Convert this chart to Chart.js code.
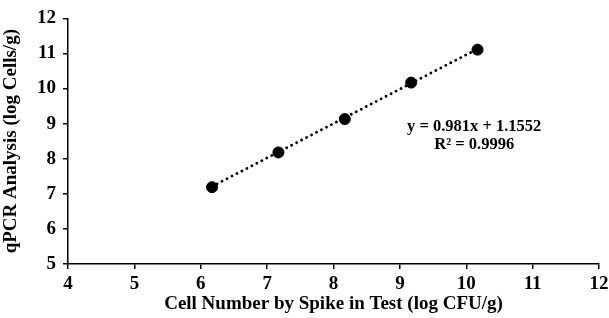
<!DOCTYPE html>
<html>
<head>
<meta charset="utf-8">
<script src="https://cdn.jsdelivr.net/npm/chart.js@4"></script>
<style>
  html, body { margin: 0; padding: 0; background: #fff; }
  #wrap { width: 609px; height: 318px; position: relative; }
</style>
</head>
<body>
<div id="wrap"><canvas id="chart"></canvas></div>
<script>
// values
const spikeLog = [6.17, 7.17, 8.17, 9.17, 10.17];
const qpcrLog = [7.19, 8.18, 9.13, 10.17, 11.11];
const qpcrErr = [0.03, 0.04, 0.03, 0.09, 0.03];
const trendX = [6.17, 10.17];
const trendY = [7.21, 11.13];
const eqLines = ['y = 0.981x + 1.1552', 'R\u00b2 = 0.9996'];
const eqAt = { x: 10.12, y: 8.65 };

const serif = '"Liberation Serif", "DejaVu Serif", serif';

// small error bars + equation text
const extras = {
    id: 'extras',
    afterDatasetsDraw(chart) {
        const { ctx, scales: { x, y } } = chart;
        ctx.save();
        ctx.strokeStyle = '#000';
        ctx.lineWidth = 1.2;
        spikeLog.forEach((v, i) => {
            const px = x.getPixelForValue(v);
            const top = y.getPixelForValue(qpcrLog[i] + qpcrErr[i]);
            const bot = y.getPixelForValue(qpcrLog[i] - qpcrErr[i]);
            ctx.beginPath();
            ctx.moveTo(px, top); ctx.lineTo(px, bot);
            ctx.moveTo(px - 3, top); ctx.lineTo(px + 3, top);
            ctx.moveTo(px - 3, bot); ctx.lineTo(px + 3, bot);
            ctx.stroke();
        });
        ctx.fillStyle = '#000';
        ctx.font = 'bold 16.5px ' + serif;
        ctx.textAlign = 'center';
        ctx.textBaseline = 'middle';
        const cx = x.getPixelForValue(eqAt.x);
        const cy = y.getPixelForValue(eqAt.y);
        ctx.fillText(eqLines[0], cx, cy - 9);
        ctx.fillText(eqLines[1], cx, cy + 9);
        ctx.restore();
    }
};

new Chart(document.getElementById('chart'), {
    type: 'scatter',
    data: {
        datasets: [
            {
                label: 'qPCR',
                data: spikeLog.map((v, i) => ({ x: v, y: qpcrLog[i] })),
                backgroundColor: '#000',
                borderColor: '#000',
                pointRadius: 5.5,
                order: 1
            },
            {
                label: 'Trend',
                type: 'line',
                data: trendX.map((v, i) => ({ x: v, y: trendY[i] })),
                borderColor: '#000',
                borderWidth: 2.8,
                borderDash: [0.1, 5.5],
                borderCapStyle: 'round',
                pointRadius: 0,
                fill: false,
                order: 2
            }
        ]
    },
    options: {
        responsive: true,
        maintainAspectRatio: false,
        animation: false,
        layout: { padding: { top: 17, right: 0, left: 0, bottom: 0 } },
        plugins: { legend: { display: false }, tooltip: { enabled: false } },
        scales: {
            x: {
                type: 'linear',
                min: 4, max: 12,
                ticks: { stepSize: 1, color: '#000', padding: 4, font: { family: serif, size: 19, weight: 'bold' } },
                grid: { display: true, drawOnChartArea: false, drawTicks: true, tickLength: 5, color: '#000', lineWidth: 1.5 },
                border: { display: true, color: '#000', width: 1.5 },
                title: { display: true, text: 'Cell Number by Spike in Test (log CFU/g)', color: '#000', padding: { top: 0, bottom: 3 }, font: { family: serif, size: 19, weight: 'bold' } },
                afterFit(s) { s.height = 54; s.paddingRight = 10; }
            },
            y: {
                type: 'linear',
                min: 5, max: 12,
                ticks: { stepSize: 1, color: '#000', padding: 7, font: { family: serif, size: 19, weight: 'bold' } },
                grid: { display: true, drawOnChartArea: false, drawTicks: true, tickLength: 5, color: '#000', lineWidth: 1.5 },
                border: { display: true, color: '#000', width: 1.5 },
                title: { display: true, text: 'qPCR Analysis (log Cells/g)', color: '#000', padding: { top: 0, bottom: 3 }, font: { family: serif, size: 19, weight: 'bold' } },
                afterFit(s) { s.width = 68; }
            }
        }
    },
    plugins: [extras]
});
</script>
</body>
</html>
